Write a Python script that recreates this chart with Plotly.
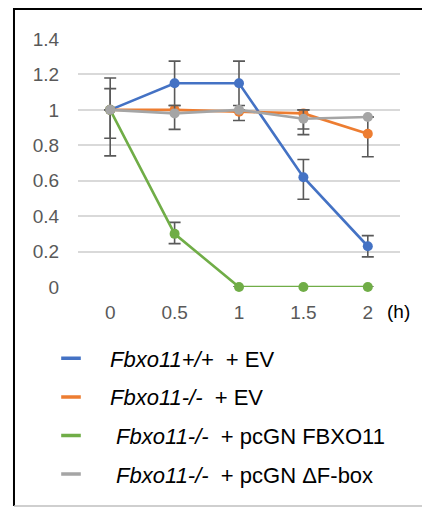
import plotly.graph_objects as go

# ---- data ----
time_labels = ["0", "0.5", "1", "1.5", "2"]

series_names = [
    "<i>Fbxo11+/+</i>  + EV",
    "<i>Fbxo11-/-</i>  + EV",
    " <i>Fbxo11-/-</i>  + pcGN FBXO11",
    " <i>Fbxo11-/-</i>  + pcGN ΔF-box",
]
series_colors = ["#4472C4", "#ED7D31", "#70AD47", "#A5A5A5"]

wt_ev = [1.0, 1.15, 1.15, 0.62, 0.23]
wt_ev_err_plus = [0.18, 0.125, 0.125, 0.10, 0.06]
wt_ev_err_minus = [0.16, 0.125, 0.125, 0.125, 0.06]

ko_ev = [1.0, 1.0, 0.99, 0.98, 0.865]
ko_ev_err_plus = [0.12, 0.0, 0.0, 0.02, 0.095]
ko_ev_err_minus = [0.26, 0.0, 0.05, 0.12, 0.13]

ko_fbxo11 = [1.0, 0.30, 0.0, 0.0, 0.0]
ko_fbxo11_err_plus = [0.0, 0.065, 0.0, 0.0, 0.0]
ko_fbxo11_err_minus = [0.0, 0.055, 0.0, 0.0, 0.0]

ko_dfbox = [1.0, 0.98, 1.0, 0.95, 0.96]
ko_dfbox_err_plus = [0.0, 0.045, 0.0, 0.05, 0.0]
ko_dfbox_err_minus = [0.0, 0.09, 0.0, 0.058, 0.0]

y_tick_vals = [0, 0.2, 0.4, 0.6, 0.8, 1.0, 1.2, 1.4]
y_tick_text = ["0", "0.2", "0.4", "0.6", "0.8", "1", "1.2", "1.4"]

values = [wt_ev, ko_ev, ko_fbxo11, ko_dfbox]
err_plus = [wt_ev_err_plus, ko_ev_err_plus, ko_fbxo11_err_plus, ko_dfbox_err_plus]
err_minus = [wt_ev_err_minus, ko_ev_err_minus, ko_fbxo11_err_minus, ko_dfbox_err_minus]

FONT = "Liberation Sans, Arial, Helvetica, sans-serif"

fig = go.Figure()
for name, color, vals, ep, em in zip(series_names, series_colors, values, err_plus, err_minus):
    fig.add_trace(go.Scatter(
        x=time_labels, y=vals, mode="lines+markers",
        line=dict(color=color, width=2.6),
        marker=dict(color=color, size=10),
        error_y=dict(type="data", symmetric=False, array=ep, arrayminus=em,
                     color="#595959", thickness=1.6, width=6),
        cliponaxis=False, showlegend=False,
    ))

# legend-only entries (short line symbols)
for i, (name, color) in enumerate(zip(series_names, series_colors)):
    fig.add_trace(go.Scatter(
        x=[None], y=[None], mode="markers", name=name,
        legendgroup=f"g{i}",
        marker=dict(symbol="line-ew", size=14, color=color,
                    line=dict(color=color, width=3.5)),
    ))

fig.add_annotation(
    text="(h)", xref="paper", yref="paper", x=0.996, y=0,
    xanchor="center", yanchor="top", yshift=-12, showarrow=False,
    font=dict(family=FONT, size=19, color="#000000"),
)

# frame around the figure
fig.add_shape(type="line", xref="paper", yref="paper", x0=-0.1988, x1=1.2, y0=1.121, y1=1.121,
              line=dict(color="#000000", width=2))
fig.add_shape(type="line", xref="paper", yref="paper", x0=-0.1988, x1=-0.1988, y0=1.125, y1=-0.883,
              line=dict(color="#000000", width=2))
fig.add_shape(type="line", xref="paper", yref="paper", x0=-0.1988, x1=1.2, y0=-0.883, y1=-0.883,
              line=dict(color="#BFBFBF", width=1.5))

fig.update_layout(
    width=430, height=509,
    margin=dict(l=70, r=38, t=31, b=230, autoexpand=False),
    paper_bgcolor="#FFFFFF", plot_bgcolor="#FFFFFF",
    font=dict(family=FONT, size=19, color="#595959"),
    showlegend=True,
    legend=dict(
        xref="container", yref="container", x=0.0558, y=0.3527,
        xanchor="left", yanchor="top",
        itemwidth=68, traceorder="grouped", tracegroupgap=7,
        font=dict(family=FONT, size=22, color="#000000"),
        bgcolor="rgba(0,0,0,0)",
    ),
    xaxis=dict(
        type="category", range=[-0.5, 4.5],
        showgrid=False, zeroline=False, showline=False,
        ticks="outside", ticklen=8, tickcolor="rgba(0,0,0,0)",
        tickfont=dict(family=FONT, size=19, color="#595959"),
        fixedrange=True,
    ),
    yaxis=dict(
        range=[0, 1.4], tickvals=y_tick_vals, ticktext=y_tick_text,
        showgrid=True, gridcolor="#D9D9D9", gridwidth=1.5,
        zeroline=False, showline=False,
        ticks="outside", ticklen=14, tickcolor="rgba(0,0,0,0)",
        tickfont=dict(family=FONT, size=19, color="#595959"),
        fixedrange=True,
    ),
)

fig.write_html("out.html")
